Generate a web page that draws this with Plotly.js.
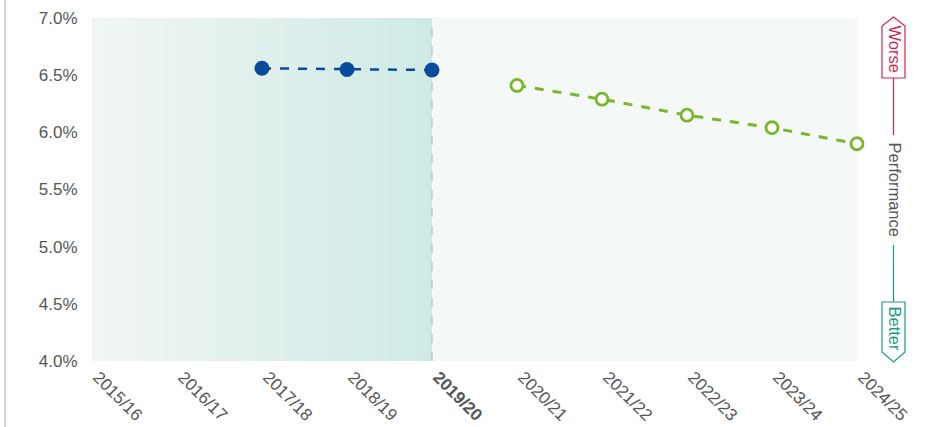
<!DOCTYPE html>
<html>
<head>
<meta charset="utf-8">
<script src="https://cdn.plot.ly/plotly-3.0.1.min.js"></script>
<style>html,body{margin:0;padding:0;background:#fff;}#chart{width:928px;height:427px;}</style>
</head>
<body>
<div id="chart"></div>
<script>
// ---- data ----
const categories = ["2015/16","2016/17","2017/18","2018/19","2019/20","2020/21","2021/22","2022/23","2023/24","2024/25"];
const tickLabels = ["2015/16","2016/17","2017/18","2018/19","<b>2019/20</b>","2020/21","2021/22","2022/23","2023/24","2024/25"];
const actualYears = ["2017/18","2018/19","2019/20"];
const actualValues = [6.56, 6.55, 6.545];
const forecastYears = ["2020/21","2021/22","2022/23","2023/24","2024/25"];
const forecastValues = [6.41, 6.29, 6.15, 6.04, 5.90];
const yTickVals = [4.0,4.5,5.0,5.5,6.0,6.5,7.0];

// ---- layout geometry ----
const W = 928, H = 427;
const M = {l: 92, r: 71, t: 18, b: 66};
const pw = W - M.l - M.r, ph = H - M.t - M.b;
const px = x => (x - M.l) / pw;
const py = y => (H - M.b - y) / ph;
const currentIdx = categories.indexOf("2019/20");
const FONT = 'Liberation Sans, Arial, Helvetica, sans-serif';

const shapes = [];
// gradient history band
const steps = 60;
function lerp(a,b,t){return Math.round(a+(b-a)*t);}
const c0 = [241,246,245], c1 = [207,234,229];
for (let i = 0; i < steps; i++) {
  const t = i/(steps-1);
  const x0 = currentIdx * i/steps, x1 = currentIdx * (i+1)/steps + 0.02;
  shapes.push({type:'rect', xref:'x', yref:'paper', x0:x0, x1:Math.min(x1,currentIdx), y0:0, y1:1,
    fillcolor:`rgb(${lerp(c0[0],c1[0],t)},${lerp(c0[1],c1[1],t)},${lerp(c0[2],c1[2],t)})`,
    line:{width:0}, layer:'below'});
}
shapes.push({type:'rect', xref:'x', yref:'paper', x0:currentIdx, x1:categories.length-1, y0:0, y1:1,
  fillcolor:'#f4f8f7', line:{width:0}, layer:'below'});
shapes.push({type:'line', xref:'x', yref:'paper', x0:currentIdx, x1:currentIdx, y0:0, y1:1,
  line:{color:'#bdbdbd', width:1.2, dash:'dash'}, layer:'below'});
// left page border line
shapes.push({type:'line', xref:'paper', yref:'paper', x0:px(5), x1:px(5), y0:py(0), y1:py(427),
  line:{color:'#c8c8c8', width:1.5}});

// performance indicator
const cx = 893.5, bw = 11.5;
const red = '#d3264d', teal = '#1a9a86';
function pathPx(pts){
  return 'M' + pts.map(p => px(p[0]) + ',' + py(p[1])).join(' L') + ' Z';
}
shapes.push({type:'path', xref:'paper', yref:'paper',
  path: pathPx([[cx,17],[cx+bw,26],[cx+bw,78],[cx-bw,78],[cx-bw,26]]),
  line:{color:red, width:1.2}, fillcolor:'#ffffff'});
shapes.push({type:'line', xref:'paper', yref:'paper', x0:px(cx), x1:px(cx), y0:py(78), y1:py(135),
  line:{color:red, width:1.2}});
shapes.push({type:'line', xref:'paper', yref:'paper', x0:px(cx), x1:px(cx), y0:py(245), y1:py(302),
  line:{color:teal, width:1.2}});
shapes.push({type:'path', xref:'paper', yref:'paper',
  path: pathPx([[cx-bw,302],[cx+bw,302],[cx+bw,352],[cx,362],[cx-bw,352]]),
  line:{color:teal, width:1.2}, fillcolor:'#ffffff'});

const annotations = [
  {xref:'paper', yref:'paper', x:px(cx+1), y:py(49), text:'Worse', textangle:90, showarrow:false,
   font:{family:FONT, size:16.5, color:red}, xanchor:'center', yanchor:'middle'},
  {xref:'paper', yref:'paper', x:px(cx+1), y:py(189), text:'Performance', textangle:90, showarrow:false,
   font:{family:FONT, size:16.5, color:'#555555'}, xanchor:'center', yanchor:'middle'},
  {xref:'paper', yref:'paper', x:px(cx+1), y:py(329), text:'Better', textangle:90, showarrow:false,
   font:{family:FONT, size:16.5, color:teal}, xanchor:'center', yanchor:'middle'}
];

const traces = [
  {x: actualYears, y: actualValues, type:'scatter', mode:'lines+markers', cliponaxis:false,
   line:{color:'#0a4c9c', width:2.5, dash:'dash'},
   marker:{color:'#0a4c9c', size:15}, hoverinfo:'skip'},
  {x: forecastYears, y: forecastValues, type:'scatter', mode:'lines+markers', cliponaxis:false,
   line:{color:'#79b62c', width:3, dash:'dash'},
   marker:{color:'#ffffff', size:12, line:{color:'#79b62c', width:2.8}}, hoverinfo:'skip'}
];

const layout = {
  width: W, height: H,
  margin: M,
  paper_bgcolor:'#ffffff', plot_bgcolor:'rgba(0,0,0,0)',
  showlegend:false,
  font:{family:FONT, color:'#555555', size:17},
  xaxis:{type:'category', categoryorder:'array', categoryarray:categories,
    tickvals:categories, ticktext:tickLabels, range:[0, categories.length-1],
    tickangle:45, showgrid:false, zeroline:false, showline:false, ticks:'',
    ticklabelshift:6, ticklabelstandoff:2,
    tickfont:{family:FONT, size:17, color:'#555555'}, fixedrange:true},
  yaxis:{range:[4,7], tickvals:yTickVals, ticktext:yTickVals.map(v=>v.toFixed(1)+'%'),
    showgrid:false, zeroline:false, showline:false, ticks:'outside', ticklen:10, tickcolor:'rgba(0,0,0,0)',
    tickfont:{family:FONT, size:17, color:'#555555'}, fixedrange:true},
  shapes: shapes,
  annotations: annotations
};

Plotly.newPlot('chart', traces, layout, {displayModeBar:false, staticPlot:true});
</script>
</body>
</html>
